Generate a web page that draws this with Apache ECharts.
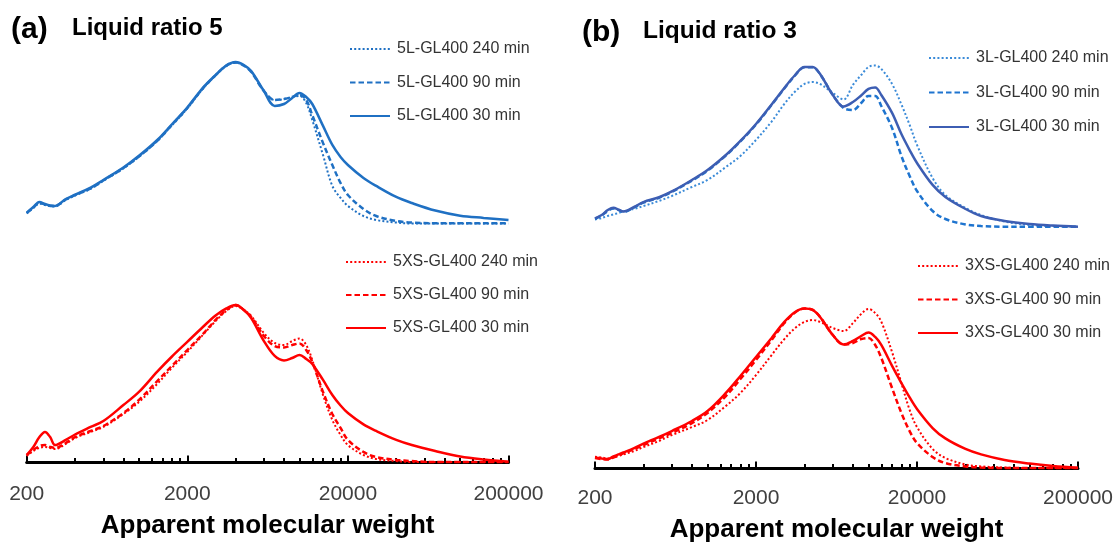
<!DOCTYPE html>
<html><head><meta charset="utf-8">
<script src="https://cdn.jsdelivr.net/npm/echarts@6/dist/echarts.min.js"></script>
<style>html,body{margin:0;padding:0;background:#fff}#c{width:1119px;height:544px}</style>
</head><body><div id="c"></div>
<script>
// Apparent molecular weight grid (Da)
const molWeight = [200,220,240,260,280,300,350,400,500,600,800,1000,1300,1600,2000,2500,3000,3500,4000,4500,5000,6000,7000,8000,9000,10000,11000,12000,14000,16000,18000,20000,25000,30000,40000,50000,70000,100000,140000,200000];
const majorTicks = [200,2000,20000,200000];
const minorTicks = [400,600,800,1000,1200,1400,1600,1800,4000,6000,8000,10000,12000,14000,16000,18000,40000,60000,80000,100000,120000,140000,160000,180000];

// Panel (a) Liquid ratio 5 - relative intensity
const L5_240 = [0.066,0.1,0.128,0.119,0.113,0.11,0.15,0.178,0.22,0.27,0.347,0.42,0.518,0.615,0.722,0.845,0.928,0.988,1.008,0.99,0.952,0.831,0.775,0.781,0.794,0.8,0.756,0.65,0.431,0.238,0.163,0.113,0.05,0.025,0.009,0.003,0.003,0.003,0.003,0.003];
const L5_90  = [0.068,0.103,0.131,0.122,0.113,0.113,0.153,0.181,0.222,0.272,0.35,0.422,0.52,0.618,0.725,0.848,0.93,0.99,1.01,0.99,0.95,0.831,0.775,0.781,0.794,0.806,0.775,0.681,0.506,0.369,0.256,0.181,0.094,0.05,0.019,0.009,0.005,0.005,0.005,0.005];
const L5_30  = [0.071,0.106,0.138,0.125,0.116,0.113,0.156,0.183,0.227,0.275,0.353,0.426,0.525,0.622,0.728,0.851,0.931,0.991,1.013,0.994,0.956,0.831,0.738,0.75,0.788,0.819,0.794,0.75,0.613,0.494,0.419,0.369,0.288,0.238,0.169,0.131,0.084,0.052,0.038,0.025];
const XS5_240 = [0.041,0.072,0.091,0.097,0.091,0.084,0.116,0.153,0.191,0.222,0.303,0.378,0.491,0.591,0.691,0.797,0.884,0.947,0.978,0.953,0.916,0.809,0.747,0.734,0.759,0.775,0.734,0.641,0.422,0.266,0.172,0.109,0.047,0.022,0.009,0.003,0.003,0.003,0.003,0.003];
const XS5_90  = [0.047,0.078,0.103,0.109,0.097,0.091,0.122,0.159,0.197,0.228,0.309,0.391,0.509,0.603,0.703,0.803,0.891,0.953,0.984,0.953,0.909,0.791,0.728,0.719,0.734,0.744,0.703,0.628,0.441,0.303,0.216,0.141,0.066,0.034,0.016,0.009,0.003,0.003,0.003,0.003];
const XS5_30  = [0.047,0.097,0.159,0.191,0.159,0.109,0.141,0.175,0.222,0.259,0.359,0.441,0.568,0.661,0.754,0.847,0.919,0.963,0.984,0.953,0.903,0.759,0.666,0.638,0.653,0.672,0.647,0.616,0.516,0.422,0.356,0.309,0.238,0.197,0.141,0.109,0.072,0.038,0.019,0.005];

// Panel (b) Liquid ratio 3 - relative intensity
const L3_240 = [0.047,0.056,0.069,0.078,0.088,0.097,0.113,0.131,0.163,0.194,0.25,0.294,0.375,0.444,0.544,0.659,0.769,0.847,0.894,0.906,0.894,0.838,0.797,0.888,0.95,1.0,1.009,0.988,0.894,0.766,0.638,0.513,0.306,0.2,0.119,0.075,0.034,0.013,0.006,0.002];
const L3_90  = [0.05,0.072,0.1,0.115,0.106,0.094,0.122,0.153,0.183,0.219,0.29,0.352,0.447,0.535,0.64,0.763,0.866,0.948,0.998,0.998,0.955,0.825,0.744,0.731,0.775,0.819,0.819,0.756,0.619,0.444,0.319,0.225,0.1,0.05,0.016,0.006,0.002,0.002,0.002,0.002];
const L3_30  = [0.054,0.075,0.106,0.121,0.109,0.097,0.125,0.156,0.186,0.222,0.294,0.356,0.45,0.538,0.644,0.766,0.869,0.95,1.0,1.0,0.956,0.825,0.753,0.781,0.822,0.863,0.872,0.825,0.713,0.581,0.481,0.4,0.263,0.188,0.113,0.069,0.038,0.019,0.009,0.002];
const XS3_240 = [0.074,0.069,0.063,0.072,0.078,0.088,0.109,0.134,0.172,0.209,0.259,0.303,0.391,0.472,0.584,0.709,0.809,0.878,0.916,0.928,0.916,0.878,0.859,0.909,0.966,0.997,0.972,0.918,0.728,0.534,0.366,0.259,0.122,0.066,0.025,0.013,0.006,0.003,0.003,0.003];
const XS3_90  = [0.066,0.059,0.056,0.069,0.081,0.094,0.122,0.147,0.188,0.222,0.284,0.347,0.453,0.559,0.678,0.803,0.909,0.975,1.0,0.991,0.947,0.834,0.775,0.784,0.809,0.816,0.772,0.691,0.503,0.347,0.234,0.159,0.072,0.034,0.013,0.006,0.003,0.003,0.003,0.003];
const XS3_30  = [0.068,0.063,0.059,0.075,0.088,0.1,0.128,0.156,0.197,0.234,0.297,0.359,0.472,0.578,0.697,0.816,0.916,0.978,1.0,0.991,0.947,0.834,0.775,0.797,0.828,0.85,0.822,0.772,0.641,0.534,0.444,0.372,0.253,0.188,0.122,0.088,0.053,0.031,0.016,0.005];

const FONT = "'Liberation Sans', Arial, Helvetica, sans-serif";
const lg = v => Math.log10(v);
const xMin = lg(200), xMax = lg(200000);
const pts = arr => molWeight.map((m, i) => [lg(m), arr[i]]);
const BLANK = 'image://data:image/gif;base64,R0lGODlhAQABAIAAAAAAAP///yH5BAEAAAAALAAAAAABAAEAAAIBRAA7';

const DOT = [2, 2.2], DASH = [5.5, 3];
const styles = {
  s240: { type: DOT, width: 2 },
  s90: { type: DASH, width: 2.5 },
  s30: { type: 'solid', width: 2.5 }
};
function ser(name, arr, idx, style, color) {
  return {
    name, type: 'line', xAxisIndex: idx, yAxisIndex: idx, data: pts(arr),
    smooth: 0.35, showSymbol: false, symbol: BLANK, symbolSize: 1, clip: false,
    lineStyle: Object.assign({ color }, style), itemStyle: { color },
    emphasis: { disabled: true }, z: style === styles.s30 ? 3 : 2
  };
}
const aBlue = '#1f70c3';
const bBlue30 = '#3d5eb3', bBlue90 = '#1e74cf', bBlue240 = '#3b8bd8';
const red = '#ff0000';

const series = [
  ser('5L-GL400 240 min', L5_240, 0, styles.s240, aBlue),
  ser('5L-GL400 90 min', L5_90, 0, styles.s90, aBlue),
  ser('5L-GL400 30 min', L5_30, 0, styles.s30, aBlue),
  ser('5XS-GL400 240 min', XS5_240, 1, styles.s240, red),
  ser('5XS-GL400 90 min', XS5_90, 1, styles.s90, red),
  ser('5XS-GL400 30 min', XS5_30, 1, styles.s30, red),
  ser('3L-GL400 240 min', L3_240, 2, styles.s240, bBlue240),
  ser('3L-GL400 90 min', L3_90, 2, styles.s90, bBlue90),
  ser('3L-GL400 30 min', L3_30, 2, styles.s30, bBlue30),
  ser('3XS-GL400 240 min', XS3_240, 3, styles.s240, red),
  ser('3XS-GL400 90 min', XS3_90, 3, styles.s90, red),
  ser('3XS-GL400 30 min', XS3_30, 3, styles.s30, red)
];

const aL = 26.7, aW = 481.8, bL = 595, bW = 483;
const grid = [
  { left: aL, width: aW, top: 48, height: 176 },
  { left: aL, width: aW, top: 286.5, height: 176 },
  { left: bL, width: bW, top: 51, height: 176 },
  { left: bL, width: bW, top: 292.5, height: 176 },
  { left: aL, width: aW, top: 286.5, height: 176 },
  { left: bL, width: bW, top: 292.5, height: 176 }
];
function hiddenX(g) { return { type: 'value', gridIndex: g, min: xMin, max: xMax, show: false }; }
function mainX(g, off) {
  return {
    type: 'value', gridIndex: g, min: xMin, max: xMax, position: 'bottom', offset: off,
    axisLine: { show: true, lineStyle: { color: '#000', width: 3 } },
    axisTick: { show: true, inside: true, length: 7, customValues: majorTicks.map(lg), lineStyle: { color: '#000', width: 2 } },
    axisLabel: { show: true, customValues: majorTicks.map(lg), formatter: v => String(Math.round(Math.pow(10, v))),
      fontSize: 21, color: '#404040', fontFamily: FONT, margin: 17 },
    splitLine: { show: false },
    name: 'Apparent molecular weight', nameLocation: 'middle', nameGap: 46,
    nameTextStyle: { fontSize: 26, fontWeight: 'bold', color: '#000', fontFamily: FONT }
  };
}
function minorX(g, off) {
  return {
    type: 'value', gridIndex: g, min: xMin, max: xMax, position: 'bottom', offset: off,
    axisLine: { show: false },
    axisTick: { show: true, inside: true, length: 4.5, customValues: minorTicks.map(lg), lineStyle: { color: '#000', width: 2 } },
    axisLabel: { show: false }, splitLine: { show: false }
  };
}
const xAxis = [hiddenX(0), mainX(1, 4), hiddenX(2), mainX(3, 2), minorX(4, 4), minorX(5, 2)];
const yAxis = [0,1,2,3,4,5].map(g => ({ type: 'value', gridIndex: g, min: 0, max: 1.1, show: false }));

function legend(names, left, top, gap) {
  return {
    data: names, orient: 'vertical', left, top, itemGap: gap, itemWidth: 40, itemHeight: 14,
    padding: 0, selectedMode: false, itemStyle: { opacity: 0 },
    textStyle: { fontSize: 16, color: '#333', fontFamily: FONT, padding: [0, 0, 0, 2] }
  };
}
const tStyle = s => ({ fontSize: s, fontWeight: 'bold', color: '#000', fontFamily: FONT });
const title = [
  { text: '(a)', left: 11, top: 15, padding: 0, textStyle: tStyle(30) },
  { text: 'Liquid ratio 5', left: 72, top: 16, padding: 0, textStyle: tStyle(24) },
  { text: '(b)', left: 582, top: 18, padding: 0, textStyle: tStyle(30) },
  { text: 'Liquid ratio 3', left: 643, top: 19, padding: 0, textStyle: tStyle(24.5) }
];

const chart = echarts.init(document.getElementById('c'), null, { renderer: 'canvas' });
chart.setOption({
  animation: false,
  backgroundColor: '#fff',
  title,
  legend: [
    legend(['5L-GL400 240 min', '5L-GL400 90 min', '5L-GL400 30 min'], 349, 41, 17.5),
    legend(['5XS-GL400 240 min', '5XS-GL400 90 min', '5XS-GL400 30 min'], 345, 254, 17),
    legend(['3L-GL400 240 min', '3L-GL400 90 min', '3L-GL400 30 min'], 928, 50, 18.5),
    legend(['3XS-GL400 240 min', '3XS-GL400 90 min', '3XS-GL400 30 min'], 917, 258, 17.5)
  ],
  grid, xAxis, yAxis, series
});
</script></body></html>
